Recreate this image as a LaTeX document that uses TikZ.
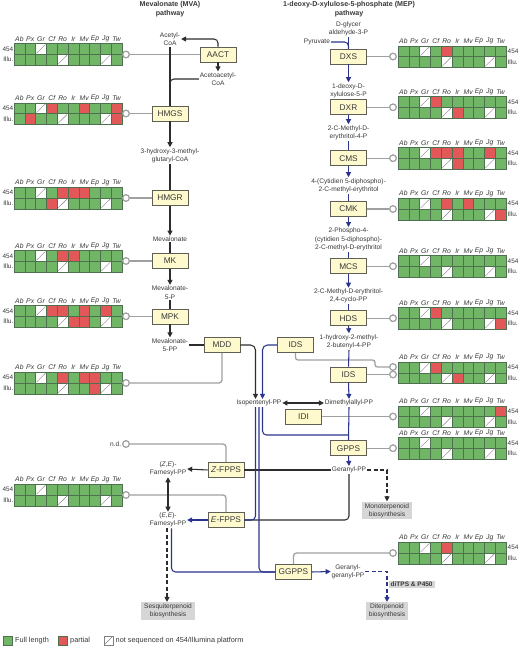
\documentclass[tikz,border=0pt]{standalone}
\usepackage{fontspec}
\setmainfont{Liberation Sans}
\usetikzlibrary{arrows.meta}
\definecolor{gcol}{RGB}{112,182,102}
\definecolor{rcol}{RGB}{226,88,88}
\colorlet{cg}{gcol}
\colorlet{cr}{rcol}
\colorlet{cw}{white}
\colorlet{dg}{gcol}
\colorlet{dr}{rcol}
\definecolor{dw}{RGB}{130,130,130}
\definecolor{gridcol}{RGB}{78,112,78}
\definecolor{boxfill}{RGB}{255,250,206}
\definecolor{boxdraw}{RGB}{95,95,85}
\definecolor{navy}{RGB}{42,52,140}
\definecolor{dark}{RGB}{45,45,45}
\definecolor{conncol}{RGB}{160,160,160}
\definecolor{greybox}{RGB}{214,214,214}
\definecolor{txt}{RGB}{55,55,55}
\tikzset{
  enz/.style={draw=boxdraw, fill=boxfill, line width=0.6pt, minimum width=36pt, minimum height=15pt, inner sep=1pt, font=\fontsize{8.3}{9}\selectfont, text=txt},
  met/.style={font=\fontsize{6.6}{8.4}\selectfont, text=txt, align=center, inner sep=0.8pt},
  ttl/.style={font=\bfseries\fontsize{7.1}{8.6}\selectfont, text=txt, align=center, inner sep=0pt},
  hdr/.style={font=\itshape\fontsize{6.8}{7}\selectfont, text=txt, inner sep=0pt},
  sidelab/.style={font=\fontsize{6.4}{7}\selectfont, text=txt, inner sep=0pt},
  gbox/.style={fill=greybox, font=\fontsize{6.6}{8.4}\selectfont, text=txt, align=center, inner xsep=3pt, inner ysep=1.6pt},
  port/.style={circle, draw=conncol, fill=white, line width=1.1pt, minimum size=6.5pt, inner sep=0pt},
  dk/.style={draw=dark, line width=1.05pt},
  bl/.style={draw=navy, line width=1.05pt},
  conn/.style={draw=conncol, line width=1.3pt},
  tip/.style={-{Triangle[length=5pt,width=5pt]}},
  bitip/.style={{Triangle[length=5pt,width=5pt]}-{Triangle[length=5pt,width=5pt]}},
  dsh/.style={dash pattern=on 4pt off 2.5pt},
  legsq/.style={minimum size=9pt, inner sep=0pt, line width=0.4pt},
  legtxt/.style={font=\fontsize{7.3}{8}\selectfont, text=txt, inner sep=0pt, anchor=west}
}
% #1 x0, #2 y0, #3 row 454, #4 row Illu, #5 id, #6 label x, #7 label anchor
\newcommand\mygrid[7]{%
  \foreach \c [count=\i from 0] in {#3} {
    \path[fill=c\c, draw=gridcol, line width=0.35pt] ({#1+\i*10.8},#2) rectangle ++(10.8,10.7);
    \draw[color=d\c, line width=0.45pt] ({#1+\i*10.8+1},{#2+10.7-1}) -- ++(8.8,-8.7);
  }
  \foreach \c [count=\i from 0] in {#4} {
    \path[fill=c\c, draw=gridcol, line width=0.35pt] ({#1+\i*10.8},{#2+10.7}) rectangle ++(10.8,10.7);
    \draw[color=d\c, line width=0.45pt] ({#1+\i*10.8+1},{#2+21.4-1}) -- ++(8.8,-8.7);
  }
  \foreach \h [count=\i from 0] in {Ab,Px,Gr,Cf,Ro,Ir,Mv,Ep,Jg,Tw}
    \node[hdr] (#5h\i) at ({#1+\i*10.8+5.4},{#2-4.8}) {\h};
  \node[sidelab, anchor=#7] (#5a) at (#6,{#2+5.35}) {454};
  \node[sidelab, anchor=#7] (#5b) at (#6,{#2+16.05}) {Illu.};
}
\begin{document}
\begin{tikzpicture}[x=1pt,y=-1pt]
\useasboundingbox (0,0) rectangle (520,647);

% titles
\node[ttl] (tmva) at (170,9) {Mevalonate (MVA)\\pathway};
\node[ttl] (tmep) at (349,9) {1-deoxy-D-xylulose-5-phosphate (MEP)\\pathway};

% grids
\mygrid{14}{43.5}{g,g,w,g,g,g,g,g,g,g}{g,g,g,g,w,g,g,g,w,g}{gA}{13.5}{east}
\mygrid{14}{102.8}{g,g,w,r,g,g,r,g,g,r}{g,r,g,g,w,g,g,g,w,r}{gB}{13.5}{east}
\mygrid{14}{187.3}{g,g,w,g,r,r,r,g,g,g}{g,g,g,r,w,g,g,g,w,g}{gC}{13.5}{east}
\mygrid{14}{250.5}{g,g,w,g,r,r,g,g,g,g}{g,g,g,g,w,g,g,g,w,g}{gD}{13.5}{east}
\mygrid{14}{305.5}{g,g,w,r,r,g,r,g,r,g}{g,g,g,g,w,r,r,g,w,g}{gE}{13.5}{east}
\mygrid{14}{372.3}{g,g,w,g,r,g,r,r,g,g}{g,g,g,g,w,g,g,r,w,g}{gF}{13.5}{east}
\mygrid{14}{484.3}{g,g,w,g,g,g,g,g,g,g}{g,g,g,g,w,g,g,g,w,g}{gG}{13.5}{east}
\mygrid{398}{45.8}{g,g,w,g,r,g,g,g,g,g}{g,g,g,g,w,g,g,g,w,g}{gH}{507.5}{west}
\mygrid{398}{96.5}{g,g,w,r,g,g,g,g,g,g}{g,g,g,g,w,r,g,g,w,g}{gI}{507.5}{west}
\mygrid{398}{147.5}{g,g,w,r,r,r,g,g,r,g}{g,g,g,g,w,r,g,g,w,g}{gJ}{507.5}{west}
\mygrid{398}{198.3}{g,g,w,g,r,g,r,g,g,g}{g,g,g,g,w,g,g,g,w,r}{gK}{507.5}{west}
\mygrid{398}{255.5}{g,g,w,g,g,g,g,g,g,g}{g,g,g,g,w,g,g,g,w,g}{gL}{507.5}{west}
\mygrid{398}{307.5}{g,g,w,r,g,g,g,g,g,g}{g,g,g,g,w,g,g,g,w,r}{gM}{507.5}{west}
\mygrid{398}{362}{g,g,w,r,g,g,g,g,g,g}{g,g,g,g,w,r,g,g,w,g}{gN}{507.5}{west}
\mygrid{398}{405.8}{g,g,w,g,g,g,g,g,g,r}{g,g,g,g,w,g,g,g,w,g}{gO}{507.5}{west}
\mygrid{398}{437.5}{g,g,w,g,g,g,g,g,g,g}{g,g,g,g,w,g,g,g,w,g}{gP}{507.5}{west}
\mygrid{398}{542.3}{g,g,w,g,r,g,g,g,g,g}{g,g,g,g,w,g,g,g,w,g}{gQ}{507.5}{west}

% MVA nodes
\node[met] (acetyl) at (170,39) {Acetyl-\\CoA};
\node[enz] (AACT) at (218,54.5) {AACT};
\node[met] (acac) at (218,79) {Acetoacetyl-\\CoA};
\node[enz] (HMGS) at (170,113.5) {HMGS};
\node[met] (hmg) at (170,155.5) {3-hydroxy-3-methyl-\\glutaryl-CoA};
\node[enz] (HMGR) at (170,198) {HMGR};
\node[met] (mev) at (170,239) {Mevalonate};
\node[enz] (MK) at (170,261) {MK};
\node[met] (mev5p) at (170,292.5) {Mevalonate-\\5-P};
\node[enz] (MPK) at (170,316.3) {MPK};
\node[met] (mev5pp) at (170,345) {Mevalonate-\\5-PP};
\node[enz] (MDD) at (222,345) {MDD};

% MEP nodes
\node[met] (gap) at (348.5,29) {D-glycer\\aldehyde-3-P};
\node[met, anchor=east] (pyr) at (331,42) {Pyruvate};
\node[enz] (DXS) at (348.5,56.5) {DXS};
\node[met] (dxp) at (348.5,90.5) {1-deoxy-D-\\xylulose-5-P};
\node[enz] (DXR) at (348.5,107.3) {DXR};
\node[met] (mep) at (348.5,132.5) {2-C-Methyl-D-\\erythritol-4-P};
\node[enz] (CMS) at (348.5,158.2) {CMS};
\node[met] (cdpme) at (348.5,185.5) {4-(Cytidien 5-diphospho)-\\2-C-methyl-erythritol};
\node[enz] (CMK) at (348.5,209) {CMK};
\node[met] (cdpmep) at (348.5,239.5) {2-Phospho-4-\\(cytidien 5-diphospho)-\\2-C-methyl-D-erythritol};
\node[enz] (MCS) at (348.5,266.2) {MCS};
\node[met] (mecpp) at (348.5,296) {2-C-Methyl-D-erythritol-\\2,4-cyclo-PP};
\node[enz] (HDS) at (348.5,318.2) {HDS};
\node[met] (hmbpp) at (349,341.5) {1-hydroxy-2-methyl-\\2-butenyl-4-PP};
\node[enz] (IDSa) at (295.5,345) {IDS};
\node[enz] (IDSb) at (348.5,374.5) {IDS};
\node[met] (ipp) at (259,403) {Isopentenyl-PP};
\node[met] (dmapp) at (349,403) {Dimethylallyl-PP};
\node[enz] (IDI) at (303.5,416.5) {IDI};
\node[enz] (GPPS) at (348.5,448.2) {GPPS};
\node[met] (gpp) at (349,470) {Geranyl-PP};
\node[enz] (ZFPPS) at (226,470) {\textit{Z}-FPPS};
\node[enz] (EFPPS) at (226,520) {\textit{E}-FPPS};
\node[met] (zefpp) at (168,469) {(\textit{Z,E})-\\Farnesyl-PP};
\node[met] (eefpp) at (168,520) {(\textit{E,E})-\\Farnesyl-PP};
\node[enz] (GGPPS) at (293.5,572) {GGPPS};
\node[met] (ggpp) at (348,571.5) {Geranyl-\\geranyl-PP};
\node[gbox] (mono) at (387,510.5) {Monoterpenoid\\biosynthesis};
\node[gbox] (sesq) at (168,611) {Sesquiterpenoid\\biosynthesis};
\node[gbox] (diter) at (387,611) {Diterpenoid\\biosynthesis};
\node[gbox, font=\bfseries\fontsize{6.5}{7}\selectfont, inner ysep=1.5pt, inner xsep=2pt, anchor=west] (ditps) at (388.5,584.5) {diTPS \& P450};

% ports
\node[port] (pAACT) at (126,54.5) {};
\node[port] (pHMGS) at (126,113.5) {};
\node[port] (pHMGR) at (126,198) {};
\node[port] (pMK) at (126,261) {};
\node[port] (pMPK) at (126,316.3) {};
\node[port] (pMDD) at (126,383) {};
\node[port] (pnd) at (126,444) {};
\node[port] (pFPPS) at (126,495) {};
\node[met, anchor=east] (nd) at (pnd.west) {n.d.};
\node[port] (pDXS) at (393,56.5) {};
\node[port] (pDXR) at (393,107.3) {};
\node[port] (pCMS) at (393,158.2) {};
\node[port] (pCMK) at (393,209) {};
\node[port] (pMCS) at (393,266.2) {};
\node[port] (pHDS) at (393,318.2) {};
\node[port] (pIDSa) at (393,367) {};
\node[port] (pIDSb) at (393,374.5) {};
\node[port] (pIDI) at (393,416.5) {};
\node[port] (pGPPS) at (393,448.2) {};
\node[port] (pGGPPS) at (393,553) {};
\coordinate (idsbend) at (375,360);
\coordinate (j1) at (348.5,435);

% grey connectors
\draw[conn] (AACT.west) -- (pAACT);
\draw[conn] (HMGS.west) -- (pHMGS);
\draw[conn] (HMGR.west) -- (pHMGR);
\draw[conn] (MK.west) -- (pMK);
\draw[conn] (MPK.west) -- (pMPK);
\draw[conn, rounded corners=3pt] (MDD.south) |- (pMDD);
\draw[conn, rounded corners=3pt] (ZFPPS.north) |- (pnd);
\draw[conn, rounded corners=3pt] (EFPPS.north) |- (pFPPS);
\draw[conn] (DXS.east) -- (pDXS);
\draw[conn] (DXR.east) -- (pDXR);
\draw[conn] (CMS.east) -- (pCMS);
\draw[conn] (CMK.east) -- (pCMK);
\draw[conn] (MCS.east) -- (pMCS);
\draw[conn] (HDS.east) -- (pHDS);
\draw[conn, rounded corners=2.5pt] (IDSa.south) |- (idsbend) |- (pIDSa);
\draw[conn] (IDSb.east) -- (pIDSb);
\draw[conn] (IDI.east) -- (pIDI);
\draw[conn] (GPPS.east) -- (pGPPS);
\draw[conn, rounded corners=3pt] (GGPPS.north) |- (pGGPPS);
% redraw ports on top
\foreach \p in {pAACT,pHMGS,pHMGR,pMK,pMPK,pMDD,pnd,pFPPS,pDXS,pDXR,pCMS,pCMK,pMCS,pHDS,pIDSa,pIDSb,pIDI,pGPPS,pGGPPS}
  \path[draw=conncol, fill=white, line width=1.1pt] (\p) circle (3.25pt);

% MVA connectors
\draw[dk] (acetyl.south) -- (HMGS.north);
\draw[dk, tip, rounded corners=4pt] (AACT.north) |- (acetyl.east);
\draw[dk, tip] (AACT.south) -- (acac.north);
\draw[dk, rounded corners=4pt] (acac.west) -| (HMGS.north);
\draw[dk, tip] (HMGS.south) -- (hmg.north);
\draw[dk] (hmg.south) -- (HMGR.north);
\draw[dk, tip] (HMGR.south) -- (mev.north);
\draw[dk] (mev.south) -- (MK.north);
\draw[dk, tip] (MK.south) -- (mev5p.north);
\draw[dk] (mev5p.south) -- (MPK.north);
\draw[dk, tip] (MPK.south) -- (mev5pp.north);
\draw[dk] (mev5pp.east) -- (MDD.west);
\draw[dk, tip, rounded corners=5pt] (MDD.east) -| ([xshift=-3.5pt]ipp.north);
\draw[bl, tip, rounded corners=5pt] (IDSa.west) -| ([xshift=3.5pt]ipp.north);

% MEP connectors
\draw[bl] (gap.south) -- (DXS.north);
\draw[bl, rounded corners=4pt] (pyr.east) -| (DXS.north);
\draw[bl, tip] (DXS.south) -- (dxp.north);
\draw[bl] (dxp.south) -- (DXR.north);
\draw[bl, tip] (DXR.south) -- (mep.north);
\draw[bl] (mep.south) -- (CMS.north);
\draw[bl, tip] (CMS.south) -- (cdpme.north);
\draw[bl] (cdpme.south) -- (CMK.north);
\draw[bl, tip] (CMK.south) -- (cdpmep.north);
\draw[bl] (cdpmep.south) -- (MCS.north);
\draw[bl, tip] (MCS.south) -- (mecpp.north);
\draw[bl] (mecpp.south) -- (HDS.north);
\draw[bl, tip] (HDS.south) -- (hmbpp.north);
\draw[bl] (hmbpp.south) -- (IDSb.north);
\draw[bl, tip] (IDSb.south) -- (dmapp.north);
\draw[dk, bitip] (ipp.east) -- (dmapp.west);
\draw[bl] (dmapp.south) -- (GPPS.north);
\draw[bl, rounded corners=4pt] ([xshift=3.5pt]ipp.south) |- (j1);
\draw[dk] (gpp.west) -- (ZFPPS.east);
\draw[dk, rounded corners=4pt] (gpp.south) |- (EFPPS.east);
\draw[bl, rounded corners=4pt] ([xshift=-3.5pt]ipp.south) |- (EFPPS.east);
\draw[bl, rounded corners=4pt] (ipp.south) |- (GGPPS.west);
\draw[bl, tip] (GPPS.south) -- (gpp.north);
\draw[dk, dsh, tip] (gpp.east) -| (mono.north);
\draw[dk, tip] (ZFPPS.west) -- (zefpp.east);
\draw[bl, tip] (EFPPS.west) -- (eefpp.east);
\draw[dk, bitip] (zefpp.south) -- (eefpp.north);
\draw[dk, dsh, tip] ([xshift=-1pt]eefpp.south) -- ([xshift=-1pt]sesq.north);
\draw[bl, rounded corners=4pt] ([xshift=3.5pt]eefpp.south) |- (GGPPS.west);
\draw[bl, tip] (GGPPS.east) -- (ggpp.west);
\draw[bl, dsh, tip] (ggpp.east) -| (diter.north);

% legend
\node[legsq, fill=gcol, draw=gridcol] (lg) at (8,640.5) {};
\node[legtxt] (lgt) at (15,640.5) {Full length};
\node[legsq, fill=rcol, draw=gridcol] (lr) at (63,640.5) {};
\node[legtxt] (lrt) at (70,640.5) {partial};
\node[legsq, fill=white, draw=dw] (lw) at (108.5,640.5) {};
\draw[dw, line width=0.45pt] ([shift={(1,-1)}]lw.south west) -- ([shift={(-1,1)}]lw.north east);
\node[legtxt] (lwt) at (115.5,640.5) {not sequenced on 454/Illumina platform};
\end{tikzpicture}
\end{document}
